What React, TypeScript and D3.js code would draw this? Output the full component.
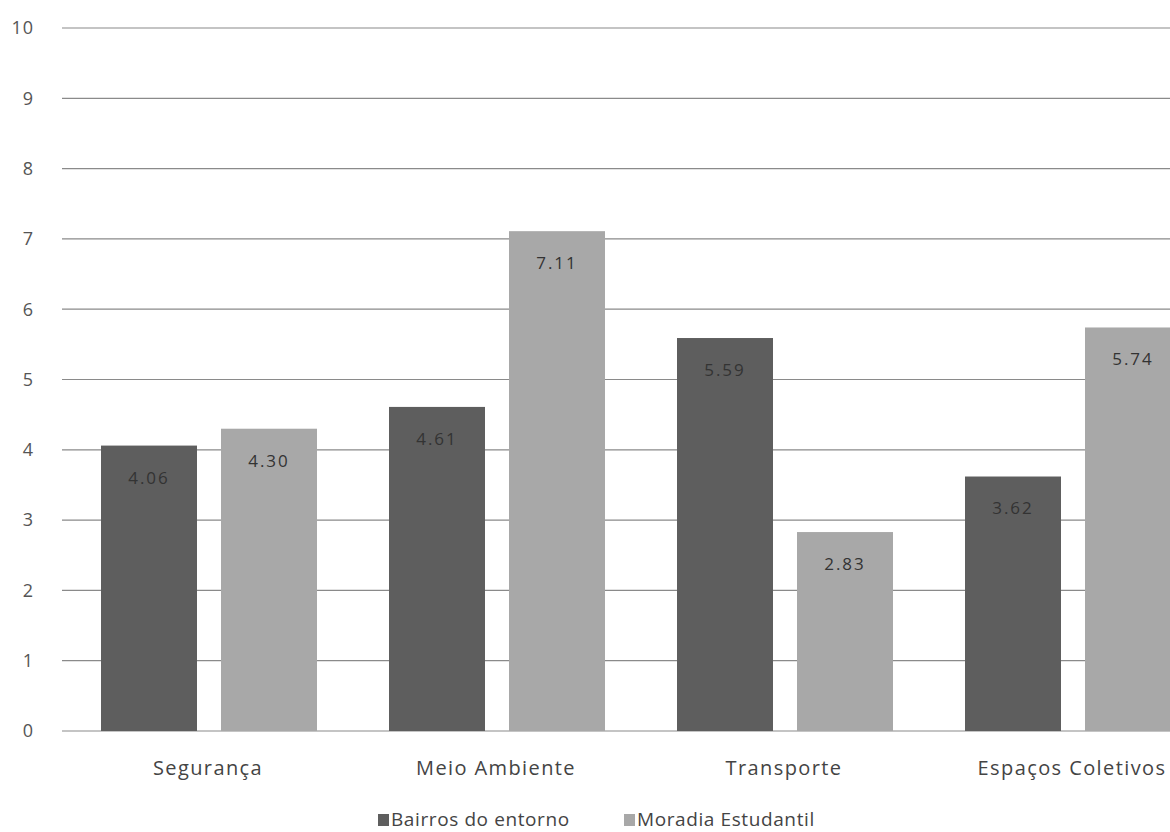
import React from "react";
import * as d3 from "d3";

const categories = ["Segurança", "Meio Ambiente", "Transporte", "Espaços Coletivos"];
const seriesNames = ["Bairros do entorno", "Moradia Estudantil"];
const bairros = [4.06, 4.61, 5.59, 3.62];
const moradia = [4.3, 7.11, 2.83, 5.74];
const bairrosLabels = ["4.06", "4.61", "5.59", "3.62"];
const moradiaLabels = ["4.30", "7.11", "2.83", "5.74"];
const yTicks = [0, 1, 2, 3, 4, 5, 6, 7, 8, 9, 10];

const W = 1170;
const H = 832;
const font = "'Open Sans', sans-serif";
const colors = ["#5e5e5e", "#a8a8a8"];

export default function App() {
  const y = d3.scaleLinear().domain([0, 10]).range([731, 28]);
  const x0 = d3.scaleBand<string>().domain(categories).range([64, 1216]).paddingInner(0).paddingOuter(0);
  const x1 = d3.scaleBand<string>().domain(seriesNames).range([37, 253]).paddingInner(0.2);
  const series = [bairros, moradia];
  const labels = [bairrosLabels, moradiaLabels];
  return (
    <svg width={W} height={H} style={{ position: "absolute", left: 0, top: 0, background: "#fff" }}>
      <rect x={0} y={0} width={W} height={H} fill="#fff" />
      {yTicks.map((t) => (
        <g key={t}>
          <line x1={62} x2={W} y1={y(t)} y2={y(t)} stroke="#8a8a8a" strokeWidth={1.2} />
          <text x={34} y={y(t)} dy="0.35em" textAnchor="end" fontFamily={font} fontSize={18} letterSpacing={1} fill="#555">
            {t}
          </text>
        </g>
      ))}
      {categories.map((c, i) => (
        <g key={c} transform={`translate(${x0(c)},0)`}>
          {seriesNames.map((s, j) => {
            const v = series[j][i];
            const bx = x1(s)!;
            const bw = x1.bandwidth();
            return (
              <g key={s}>
                <rect x={bx} y={y(v)} width={bw} height={y(0) - y(v)} fill={colors[j]} />
                <text x={bx + bw / 2} y={y(v) + 32} dy="0.35em" textAnchor="middle" fontFamily={font} fontSize={17} letterSpacing={2} fill="#333">
                  {labels[j][i]}
                </text>
              </g>
            );
          })}
          <text x={x0.bandwidth() / 2} y={768} dy="0.35em" textAnchor="middle" fontFamily={font} fontSize={20} letterSpacing={1.4} fill="#444">
            {c}
          </text>
        </g>
      ))}
      {seriesNames.map((s, j) => {
        const lx = j === 0 ? 378 : 624;
        return (
          <g key={s}>
            <rect x={lx} y={814} width={11} height={12} fill={colors[j]} />
            <text x={lx + 13} y={819} dy="0.35em" fontFamily={font} fontSize={19} letterSpacing={0.6} fill="#444">
              {s}
            </text>
          </g>
        );
      })}
    </svg>
  );
}
